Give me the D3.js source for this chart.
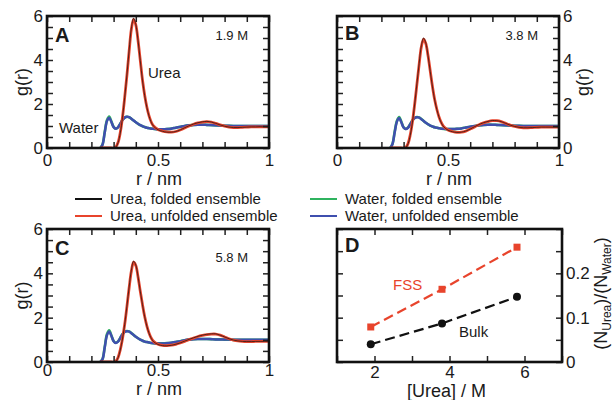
<!DOCTYPE html>
<html><head><meta charset="utf-8">
<script src="https://cdn.jsdelivr.net/npm/d3@7"></script>
<style>
body{margin:0;background:#fff}
svg{font-family:"Liberation Sans",Arial,sans-serif}
</style>
</head><body>
<svg id="fig" width="615" height="400"></svg>
<script>
// Radial distance grid (nm) shared by all g(r) series
const rGrid = [0.24,0.25,0.26,0.27,0.28,0.29,0.30,0.31,0.32,0.33,0.34,0.35,0.36,0.37,0.38,0.39,0.40,0.41,0.42,0.43,0.44,0.45,0.46,0.47,0.48,
  0.50,0.52,0.54,0.56,0.58,0.60,0.62,0.64,0.66,0.68,0.70,0.72,0.74,0.76,0.78,0.80,0.82,0.84,0.86,0.88,0.90,0.92,0.94,0.96,0.98,1.00];

// 1.9 M
const ureaFold19 = [0,0,0,0,0,0,0,0.04,0.24,0.68,1.38,2.3,3.32,4.45,5.45,5.9,5.62,4.9,3.98,3.08,2.38,1.84,1.44,1.16,0.99,
  0.83,0.76,0.72,0.72,0.75,0.82,0.92,1.01,1.09,1.15,1.19,1.21,1.18,1.12,1.05,0.99,0.95,0.93,0.93,0.94,0.95,0.96,0.96,0.97,0.96,0.96];
const ureaUnf19 = [0,0,0,0,0,0,0,0.05,0.25,0.7,1.4,2.3,3.3,4.4,5.4,5.85,5.6,4.9,4.0,3.1,2.4,1.85,1.45,1.17,1.0,
  0.84,0.77,0.73,0.72,0.75,0.82,0.91,1.0,1.08,1.14,1.18,1.2,1.18,1.12,1.05,0.99,0.95,0.93,0.93,0.94,0.95,0.96,0.96,0.96,0.96,0.96];
const waterFold19 = [0,0.16,0.72,1.26,1.43,1.21,0.96,0.88,0.94,1.1,1.27,1.38,1.42,1.4,1.33,1.25,1.17,1.1,1.04,0.99,0.95,0.92,0.9,0.88,0.87,
  0.85,0.85,0.86,0.88,0.92,0.96,1.0,1.03,1.05,1.06,1.06,1.05,1.04,1.03,1.02,1.01,1.01,1.0,1.0,1.0,1.0,1.0,1.0,1.0,1.0,1.0];
const waterUnf19 = [0,0.15,0.7,1.22,1.38,1.18,0.95,0.88,0.94,1.1,1.27,1.38,1.42,1.4,1.33,1.25,1.17,1.1,1.04,0.99,0.95,0.92,0.9,0.88,0.87,
  0.85,0.85,0.86,0.88,0.92,0.96,1.0,1.03,1.05,1.06,1.06,1.05,1.04,1.03,1.02,1.01,1.01,1.0,1.0,1.0,1.0,1.0,1.0,1.0,1.0,1.0];

// 3.8 M
const ureaFold38 = [0,0,0,0,0,0,0,0.03,0.19,0.58,1.18,2.0,2.92,3.84,4.65,5.0,4.78,4.2,3.48,2.78,2.18,1.74,1.39,1.14,0.97,
  0.81,0.74,0.71,0.72,0.77,0.86,0.97,1.07,1.15,1.21,1.25,1.24,1.2,1.12,1.04,0.98,0.94,0.92,0.92,0.93,0.94,0.95,0.95,0.95,0.95,0.95];
const ureaUnf38 = [0,0,0,0,0,0,0,0.03,0.2,0.6,1.2,2.0,2.9,3.8,4.6,4.95,4.75,4.2,3.5,2.8,2.2,1.75,1.4,1.15,0.98,
  0.82,0.75,0.71,0.72,0.77,0.86,0.96,1.06,1.14,1.2,1.24,1.24,1.2,1.12,1.04,0.98,0.94,0.92,0.92,0.93,0.94,0.95,0.95,0.95,0.95,0.95];
const waterFold38 = [0,0.19,0.75,1.24,1.41,1.19,0.94,0.87,0.93,1.09,1.26,1.37,1.41,1.39,1.32,1.23,1.15,1.08,1.02,0.98,0.94,0.92,0.9,0.88,0.87,
  0.86,0.86,0.87,0.89,0.93,0.97,1.0,1.03,1.05,1.06,1.06,1.05,1.04,1.03,1.02,1.01,1.01,1.0,1.0,1.0,1.0,1.0,1.0,1.0,1.0,1.0];
const waterUnf38 = [0,0.18,0.72,1.2,1.36,1.16,0.93,0.86,0.92,1.08,1.25,1.36,1.4,1.38,1.31,1.23,1.15,1.08,1.02,0.98,0.94,0.92,0.9,0.88,0.87,
  0.86,0.86,0.87,0.89,0.93,0.97,1.0,1.03,1.05,1.06,1.06,1.05,1.04,1.03,1.02,1.01,1.01,1.0,1.0,1.0,1.0,1.0,1.0,1.0,1.0,1.0];

// 5.8 M
const ureaFold58 = [0,0,0,0,0,0,0,0.03,0.19,0.54,1.04,1.7,2.52,3.38,4.14,4.55,4.38,3.86,3.2,2.59,2.04,1.61,1.29,1.06,0.92,
  0.79,0.74,0.73,0.75,0.8,0.86,0.94,1.02,1.09,1.16,1.21,1.25,1.27,1.27,1.21,1.13,1.05,0.99,0.95,0.93,0.92,0.92,0.93,0.93,0.93,0.93];
const ureaUnf58 = [0,0,0,0,0,0,0,0.04,0.2,0.55,1.05,1.7,2.5,3.35,4.1,4.5,4.35,3.85,3.2,2.6,2.05,1.62,1.3,1.07,0.93,
  0.8,0.75,0.74,0.76,0.8,0.86,0.93,1.01,1.08,1.15,1.2,1.24,1.26,1.26,1.21,1.13,1.05,0.99,0.95,0.93,0.92,0.92,0.93,0.93,0.93,0.93];
const waterFold58 = [0,0.13,0.68,1.25,1.43,1.2,0.95,0.87,0.93,1.09,1.26,1.37,1.4,1.38,1.31,1.22,1.14,1.07,1.01,0.96,0.92,0.9,0.88,0.86,0.85,
  0.84,0.84,0.85,0.87,0.9,0.94,0.98,1.01,1.03,1.04,1.04,1.04,1.03,1.02,1.02,1.01,1.01,1.0,1.0,1.0,1.0,1.0,1.0,1.0,1.0,1.0];
const waterUnf58 = [0,0.12,0.65,1.2,1.38,1.18,0.94,0.86,0.92,1.08,1.25,1.36,1.39,1.37,1.3,1.22,1.14,1.07,1.01,0.96,0.92,0.9,0.88,0.86,0.85,
  0.84,0.84,0.85,0.87,0.9,0.94,0.98,1.01,1.03,1.04,1.04,1.04,1.03,1.02,1.02,1.01,1.01,1.0,1.0,1.0,1.0,1.0,1.0,1.0,1.0,1.0];

const panelLetters = ["A", "B", "C"];
const concLabels = ["1.9 M", "3.8 M", "5.8 M"];
const legendLabels = ["Urea, folded ensemble", "Urea, unfolded ensemble", "Water, folded ensemble", "Water, unfolded ensemble"];

// Panel D: urea/water number ratio vs urea concentration
const ureaConc = [1.9, 3.8, 5.8];
const ratioFSS = [0.079, 0.164, 0.259];
const ratioBulk = [0.040, 0.087, 0.147];

const gTicksX = [0, 0.5, 1];
const gTicksY = [0, 2, 4, 6];
const dTicksX = [2, 4, 6];
const dTicksY = [0, 0.1, 0.2];

const COL = {ureaF: "#111111", ureaU: "#e8442c", waterF: "#2fb35f", waterU: "#3f4fae", text: "#1a1a1a"};

const svg = d3.select("#fig");

const layout = [
  {x0: 47, x1: 269, y0: 16, y1: 148, yside: "left", concDy: 24, letterDy: 26, tickPad: 6, titleDy: 37, yLabX: 28},
  {x0: 337, x1: 559, y0: 16, y1: 148, yside: "right", concDy: 24, letterDy: 24, tickPad: 6, titleDy: 37, yLabX: 589},
  {x0: 47, x1: 269, y0: 229, y1: 362, yside: "left", concDy: 33, letterDy: 26, tickPad: 2, titleDy: 33, yLabX: 28}
];

const series = [
  [ureaFold19, ureaUnf19, waterFold19, waterUnf19],
  [ureaFold38, ureaUnf38, waterFold38, waterUnf38],
  [ureaFold58, ureaUnf58, waterFold58, waterUnf58]
];

function minorTicks(g, x, y, xt, yt, w, h) {
  const mk = [
    [d3.axisBottom(x).tickValues(xt), `translate(0,${h})`],
    [d3.axisTop(x).tickValues(xt), null],
    [d3.axisLeft(y).tickValues(yt), null],
    [d3.axisRight(y).tickValues(yt), `translate(${w},0)`]
  ];
  mk.forEach(([ax, tr]) => {
    const a = g.append("g").call(ax.tickSize(-6).tickFormat(""));
    if (tr) a.attr("transform", tr);
    a.select(".domain").remove();
    a.selectAll("line").attr("stroke", "#222").attr("stroke-width", 1.5);
  });
}

function styleLabels(a, size) {
  a.select(".domain").remove();
  a.selectAll("text").attr("font-size", size).attr("fill", COL.text).attr("font-family", "Liberation Sans, Arial, sans-serif");
}

const fmtG = d => d === 0.5 ? "0.5" : String(d);

layout.forEach((L, i) => {
  const w = L.x1 - L.x0, h = L.y1 - L.y0;
  const g = svg.append("g").attr("transform", `translate(${L.x0},${L.y0})`);
  const x = d3.scaleLinear().domain([0, 1]).range([0, w]);
  const y = d3.scaleLinear().domain([0, 6]).range([h, 0]);

  g.append("clipPath").attr("id", "clip" + i).append("rect").attr("width", w).attr("height", h);

  const line = arr => d3.line().x((d, k) => x(rGrid[k])).y(d => y(d)).curve(d3.curveCatmullRom)(arr);
  const [uf, uu, wf, wu] = series[i];
  const plot = g.append("g").attr("clip-path", `url(#clip${i})`);
  plot.append("path").attr("d", line(wf)).attr("fill", "none").attr("stroke", COL.waterF).attr("stroke-width", 2.6);
  plot.append("path").attr("d", line(wu)).attr("fill", "none").attr("stroke", COL.waterU).attr("stroke-width", 2.5);
  plot.append("path").attr("d", line(uu)).attr("fill", "none").attr("stroke", COL.ureaU).attr("stroke-width", 2.8);
  plot.append("path").attr("d", line(uf)).attr("fill", "none").attr("stroke", COL.ureaF).attr("stroke-width", 1).attr("stroke-opacity", 0.7);

  minorTicks(g, x, y, d3.range(0, 1.0001, 0.1), d3.range(0, 6.0001, 0.5), w, h);
  g.append("rect").attr("width", w).attr("height", h).attr("fill", "none").attr("stroke", "#111").attr("stroke-width", 2.6);

  // tick labels
  const xa = g.append("g").attr("transform", `translate(0,${h})`)
    .call(d3.axisBottom(x).tickValues(gTicksX).tickSize(0).tickPadding(L.tickPad).tickFormat(fmtG));
  styleLabels(xa, 17);
  const ya = L.yside === "left"
    ? g.append("g").call(d3.axisLeft(y).tickValues(gTicksY).tickSize(0).tickPadding(4).tickFormat(d3.format("d")))
    : g.append("g").attr("transform", `translate(${w},0)`).call(d3.axisRight(y).tickValues(gTicksY).tickSize(0).tickPadding(4).tickFormat(d3.format("d")));
  styleLabels(ya, 17);

  // axis titles
  svg.append("text").attr("x", L.x0 + w / 2 + 1).attr("y", L.y1 + L.titleDy)
    .attr("text-anchor", "middle").attr("font-size", 18).attr("fill", COL.text).text("r / nm");
  svg.append("text").attr("transform", `translate(${L.yLabX},${L.y0 + h / 2}) rotate(-90)`)
    .attr("text-anchor", "middle").attr("font-size", 18).attr("fill", COL.text).text("g(r)");

  // panel letter and concentration
  svg.append("text").attr("x", L.x0 + 8).attr("y", L.y0 + L.letterDy)
    .attr("font-size", 20).attr("font-weight", "bold").attr("fill", COL.text).text(panelLetters[i]);
  svg.append("text").attr("x", L.x1 - 21).attr("y", L.y0 + L.concDy)
    .attr("text-anchor", "end").attr("font-size", 13).attr("fill", COL.text).text(concLabels[i]);

  if (i === 0) {
    svg.append("text").attr("x", 148).attr("y", 78).attr("font-size", 15).attr("fill", COL.text).text("Urea");
    svg.append("text").attr("x", 59).attr("y", 133).attr("font-size", 15).attr("fill", COL.text).text("Water");
  }
});

// Legend
const legendColors = [COL.ureaF, COL.ureaU, COL.waterF, COL.waterU];
const legendPos = [[75, 199], [75, 216], [310, 199], [310, 216]];
legendLabels.forEach((lab, k) => {
  const [lx, ly] = legendPos[k];
  svg.append("line").attr("x1", lx).attr("x2", lx + 27).attr("y1", ly).attr("y2", ly)
    .attr("stroke", legendColors[k]).attr("stroke-width", 2);
  svg.append("text").attr("x", lx + 35).attr("y", ly + 5).attr("font-size", 15).attr("fill", COL.text).text(lab);
});

// Panel D
(function () {
  const L = {x0: 337, x1: 562, y0: 229, y1: 362};
  const w = L.x1 - L.x0, h = L.y1 - L.y0;
  const g = svg.append("g").attr("transform", `translate(${L.x0},${L.y0})`);
  const x = d3.scaleLinear().domain([1, 7]).range([0, w]);
  const y = d3.scaleLinear().domain([0, 0.3]).range([h, 0]);

  const mkLine = vals => d3.line().x((d, k) => x(ureaConc[k])).y(d => y(d))(vals);
  g.append("path").attr("d", mkLine(ratioFSS)).attr("fill", "none").attr("stroke", COL.ureaU)
    .attr("stroke-width", 2.2).attr("stroke-dasharray", "10,5");
  g.append("path").attr("d", mkLine(ratioBulk)).attr("fill", "none").attr("stroke", "#111")
    .attr("stroke-width", 2.2).attr("stroke-dasharray", "10,5");
  g.selectAll(".sq").data(ratioFSS).join("rect")
    .attr("x", (d, k) => x(ureaConc[k]) - 3.5).attr("y", d => y(d) - 3.5)
    .attr("width", 7).attr("height", 7).attr("fill", COL.ureaU);
  g.selectAll(".ci").data(ratioBulk).join("circle")
    .attr("cx", (d, k) => x(ureaConc[k])).attr("cy", d => y(d)).attr("r", 4).attr("fill", "#111");

  minorTicks(g, x, y, d3.range(1, 7.001, 1), d3.range(0, 0.3001, 0.05), w, h);
  g.append("rect").attr("width", w).attr("height", h).attr("fill", "none").attr("stroke", "#111").attr("stroke-width", 2.6);

  const xa = g.append("g").attr("transform", `translate(0,${h})`)
    .call(d3.axisBottom(x).tickValues(dTicksX).tickSize(0).tickPadding(4).tickFormat(d3.format("d")));
  styleLabels(xa, 17);
  const ya = g.append("g").attr("transform", `translate(${w},0)`)
    .call(d3.axisRight(y).tickValues(dTicksY).tickSize(0).tickPadding(4).tickFormat(d => d === 0 ? "0" : d3.format(".1f")(d)));
  styleLabels(ya, 17);

  svg.append("text").attr("x", L.x0 + w / 2 - 3).attr("y", 397).attr("text-anchor", "middle")
    .attr("font-size", 18).attr("fill", COL.text).text("[Urea] / M");

  const t = svg.append("text").attr("transform", `translate(607,${L.y0 + h / 2 - 2}) rotate(-90)`)
    .attr("text-anchor", "middle").attr("font-size", 18).attr("fill", COL.text);
  t.append("tspan").text("(N");
  t.append("tspan").attr("font-size", 12).attr("dy", 4).text("Urea");
  t.append("tspan").attr("dy", -4).text(")/(N");
  t.append("tspan").attr("font-size", 12).attr("dy", 4).text("Water");
  t.append("tspan").attr("dy", -4).text(")");

  svg.append("text").attr("x", 393).attr("y", 290).attr("font-size", 15).attr("fill", COL.ureaU).text("FSS");
  svg.append("text").attr("x", 459).attr("y", 337).attr("font-size", 15).attr("fill", COL.text).text("Bulk");
  svg.append("text").attr("x", L.x0 + 8).attr("y", L.y0 + 23).attr("font-size", 20).attr("font-weight", "bold")
    .attr("fill", COL.text).text("D");
})();
</script>
</body></html>
